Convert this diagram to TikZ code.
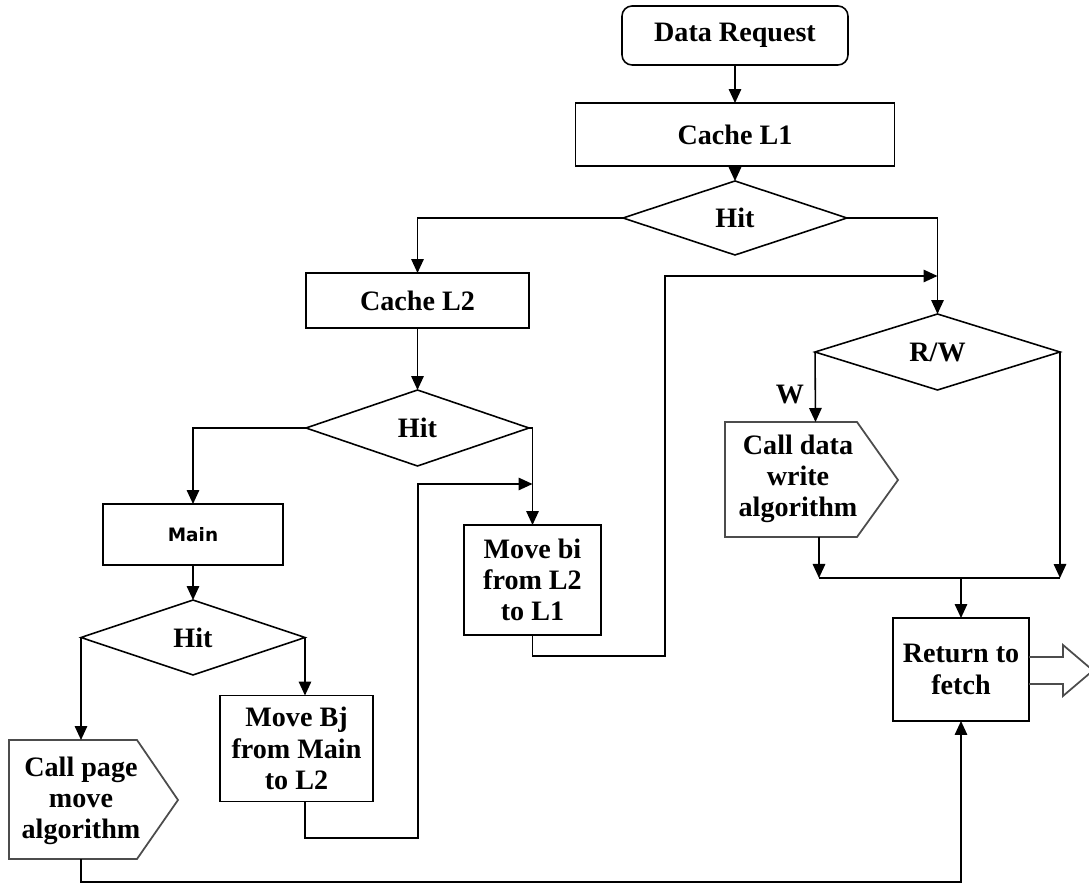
\documentclass[tikz,border=0pt]{standalone}
\usepackage{fontspec}
\setmainfont{Liberation Serif}
\newfontfamily\mainsans{DejaVu Sans}
\usetikzlibrary{shapes.geometric,arrows.meta}
\begin{document}
\begin{tikzpicture}[x=0.02cm,y=-0.02cm,
  line width=0.9pt,
  lbl/.style={font=\bfseries\fontsize{16}{17.8}\selectfont, align=center},
  box/.style={lbl, draw, rectangle, inner sep=0pt, outer sep=0pt},
  dia/.style={lbl, draw, diamond, inner sep=0pt, outer sep=0pt},
  txt/.style={lbl, inner sep=0pt},
  arr/.style={-{Triangle[length=0.28cm,width=0.25cm]}},
  shp/.style={draw=black!70, line width=1pt}
]
\useasboundingbox (0,0) rectangle (1089,884);

% nodes
\node[box, rounded corners=0.2cm, minimum width=4.52cm, minimum height=1.18cm] (dr) at (735,35.5) {Data Request};
\node[box, minimum width=6.38cm, minimum height=1.26cm] (l1) at (735,134.5) {Cache L1};
\node[dia, minimum width=4.48cm, minimum height=1.48cm] (hit1) at (735,218) {Hit};
\node[box, minimum width=4.46cm, minimum height=1.10cm] (l2) at (417.5,300.5) {Cache L2};
\node[dia, minimum width=4.46cm, minimum height=1.52cm] (hit2) at (417.5,428) {Hit};
\node[box, font=\mainsans\bfseries\fontsize{10.5}{12}\selectfont, minimum width=3.6cm, minimum height=1.22cm] (main) at (193,534.5) {Main};
\node[dia, minimum width=4.48cm, minimum height=1.5cm] (hit3) at (193,637.5) {Hit};
\node[box, minimum width=3.06cm, minimum height=2.12cm] (mbj) at (296.5,748.5) {Move Bj\\from Main\\to L2};
\node[box, minimum width=2.74cm, minimum height=2.2cm] (mbi) at (532.5,580) {Move bi\\from L2\\to L1};
\node[dia, minimum width=4.9cm, minimum height=1.52cm] (rw) at (937.5,352) {R/W};
\node[box, minimum width=2.72cm, minimum height=2.06cm] (ret) at (961,669.5) {Return to\\fetch};
\node[txt] (cp) at (81,801) {Call page\\move\\algorithm};
\node[txt] (cdw) at (798,479) {Call data\\write\\algorithm};
\node[txt] (w) at (790,395) {W};

% pentagon outlines and block arrow
\draw[shp] (9,740) -- (137,740) -- (178,800) -- (137,859) -- (9,859) -- cycle;
\draw[shp] (725,422) -- (857,422) -- (898,480) -- (857,537) -- (725,537) -- cycle;
\draw[shp] (1029,657) -- (1063,657) -- (1063,645) -- (1093,670.5) -- (1063,696) -- (1063,684) -- (1029,684);

% helper coordinates
\coordinate (cpT) at (81,740);
\coordinate (cpB) at (81,859);
\coordinate (bot) at (81,882);
\coordinate (k1) at (418,838);
\coordinate (k2) at (532.5,484);
\coordinate (k3) at (665,656);
\coordinate (k4) at (937.5,276);
\coordinate (cdwT) at (815.5,422);
\coordinate (cdwB) at (819,537);
\coordinate (m1) at (819,578);
\coordinate (m2) at (1060,578);

% connectors
\draw[arr] (dr) -- (l1);
\draw[arr] (l1) -- (hit1);
\draw[arr] (hit1.west) -| (l2.north);
\draw[arr] (hit1.east) -| (rw.north);
\draw[arr] (l2) -- (hit2);
\draw[arr] (hit2.west) -| (main.north);
\draw[arr] (hit2.east) -| (mbi.north);
\draw[arr] (main) -- (hit3);
\draw[arr] (hit3.west) -- (cpT);
\draw[arr] (hit3.east) -- (hit3.east |- mbj.north);
\draw[arr] (hit3.east |- mbj.south) |- (k1) |- (k2);
\draw[arr] (mbi.south) |- (k3) |- (k4);
\draw[arr] (rw.west) -- (cdwT);
\draw[arr] (cdwB) -- (m1);
\draw[arr] (rw.east) -- (m2);
\draw (m1) -- (m2);
\draw[arr] (ret.north |- m1) -- (ret.north);
\draw[arr] (cpB) -- (bot) -| (ret.south);
\end{tikzpicture}
\end{document}
